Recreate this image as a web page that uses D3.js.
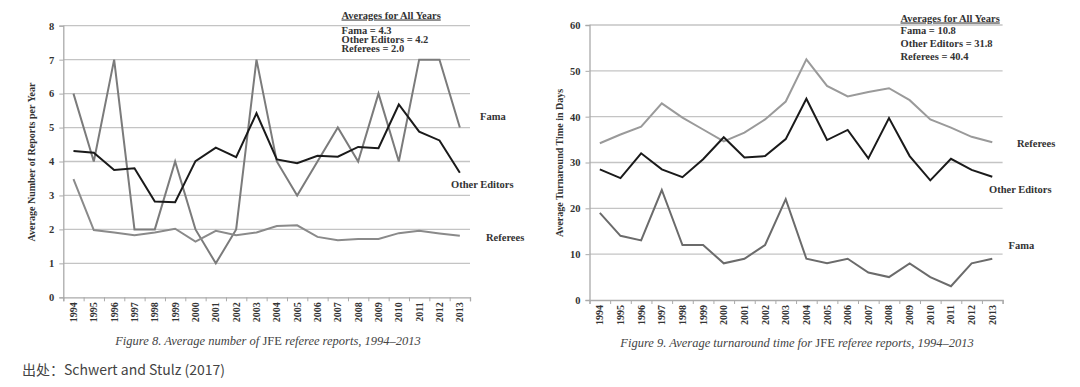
<!DOCTYPE html>
<html><head><meta charset="utf-8">
<script src="https://cdn.jsdelivr.net/npm/d3@7"></script>
<style>
body{margin:0;background:#fff;}
svg{display:block;}
.ax text{font-family:"Liberation Serif",serif;font-weight:bold;fill:#333;}
</style></head>
<body>
<svg id="c" width="1080" height="387"></svg>
<script>
const years = ["1994","1995","1996","1997","1998","1999","2000","2001","2002","2003","2004","2005","2006","2007","2008","2009","2010","2011","2012","2013"];

// Figure 8: average number of reports per year
const reportsFama = [6,4,7,2,2,4,2,1,2,7,4,3,4,5,4,6,4,7,7,5];
const reportsOther = [4.31,4.26,3.75,3.80,2.82,2.80,4.01,4.41,4.13,5.42,4.06,3.95,4.17,4.14,4.43,4.39,5.68,4.88,4.62,3.67];
const reportsReferees = [3.48,1.98,1.91,1.83,1.91,2.02,1.64,1.96,1.83,1.91,2.10,2.12,1.78,1.68,1.72,1.72,1.89,1.96,1.88,1.81];
const reportsTicks = [0,1,2,3,4,5,6,7,8];
const reportsAverages = ["Fama = 4.3","Other Editors = 4.2","Referees = 2.0"];

// Figure 9: average turnaround time in days
const daysFama = [19,14,13,24,12,12,8,9,12,22,9,8,9,6,5,8,5,3,8,9];
const daysOther = [28.5,26.6,32.0,28.5,26.8,30.7,35.5,31.1,31.4,35.1,43.9,34.9,37.1,30.9,39.7,31.4,26.1,30.8,28.4,26.9];
const daysReferees = [34.2,36.1,37.8,42.9,39.8,37.2,34.6,36.5,39.4,43.3,52.5,46.7,44.4,45.4,46.2,43.6,39.4,37.6,35.6,34.4];
const daysTicks = [0,10,20,30,40,50,60];
const daysAverages = ["Fama = 10.8","Other Editors = 31.8","Referees = 40.4"];

const svg = d3.select("#c");
const serif = '"Liberation Serif", "Times New Roman", serif';

function chart(cfg){
  const g = svg.append("g");
  const x = d3.scaleBand().domain(years).range([cfg.x0, cfg.x1]).padding(0);
  const y = d3.scaleLinear().domain([0, cfg.ymax]).range([cfg.y0, cfg.y1]);

  // gridlines
  g.append("g").selectAll("line").data(cfg.ticks.slice(1)).join("line")
    .attr("x1", cfg.x0).attr("x2", cfg.x1)
    .attr("y1", d=>y(d)).attr("y2", d=>y(d))
    .attr("stroke", "#c4c4c4").attr("stroke-width", 1.3);

  // y axis
  const ya = g.append("g").attr("class","ax").attr("transform",`translate(${cfg.x0},0)`)
    .call(d3.axisLeft(y).tickValues(cfg.ticks).tickSize(4).tickPadding(5));
  ya.select(".domain").attr("stroke","#aaa").attr("stroke-width",1.3);
  ya.selectAll(".tick line").attr("stroke","#aaa");
  ya.selectAll("text").attr("font-size", 10.5);

  // x axis: ticks at band boundaries
  const xb = d3.scaleLinear().domain([0, years.length]).range([cfg.x0, cfg.x1]);
  const xa = g.append("g").attr("class","ax").attr("transform",`translate(0,${cfg.y0})`)
    .call(d3.axisBottom(xb).tickValues(d3.range(0, years.length+1)).tickSize(4).tickFormat(""));
  xa.select(".domain").attr("stroke","#aaa").attr("stroke-width",1.3);
  xa.selectAll(".tick line").attr("stroke","#aaa");

  const xl = g.append("g").attr("class","ax").attr("transform",`translate(0,${cfg.y0})`)
    .call(d3.axisBottom(x).tickSize(0).tickPadding(0));
  xl.select(".domain").remove();
  xl.selectAll("text")
    .attr("font-size", 10)
    .attr("text-anchor","end")
    .attr("transform","rotate(-90)")
    .attr("x", -5).attr("y", 0).attr("dy","0.35em");

  // y title
  g.append("text").attr("transform",`translate(${cfg.titleX},${cfg.titleY}) rotate(-90)`)
    .attr("text-anchor","middle").attr("font-family",serif).attr("font-weight","bold")
    .attr("font-size",10).attr("fill","#333").text(cfg.ytitle);

  // lines
  const line = d3.line().x((d,i)=>x(years[i]) + x.bandwidth()/2).y(d=>y(d));
  cfg.series.forEach(s=>{
    g.append("path").datum(s.values).attr("d", line)
      .attr("fill","none").attr("stroke", s.color).attr("stroke-width", 2)
      .attr("stroke-linejoin","miter");
    g.append("text").attr("x", s.lx).attr("y", s.ly)
      .attr("font-family",serif).attr("font-weight","bold").attr("font-size",10.5)
      .attr("fill","#333").text(s.name);
  });

  // averages box
  const a = g.append("g");
  a.append("rect").attr("x", cfg.ax-2).attr("y", cfg.ay-11).attr("width", cfg.aw).attr("height", 13).attr("fill","#fff");
  a.append("text").attr("x", cfg.ax).attr("y", cfg.ay)
    .attr("font-family",serif).attr("font-weight","bold").attr("font-size",10.5)
    .attr("fill","#333").attr("text-decoration","underline").text("Averages for All Years");
  cfg.averages.forEach((t,i)=>{
    a.append("text").attr("x", cfg.ax).attr("y", cfg.ay2 + i*cfg.aStep)
      .attr("font-family",serif).attr("font-weight","bold").attr("font-size",10.5)
      .attr("fill","#333").text(t);
  });

  // caption
  const cap = g.append("text").attr("x", cfg.capX).attr("y", cfg.capY)
    .attr("text-anchor","middle").attr("font-family",serif).attr("font-size",12.5)
    .attr("font-style","italic").attr("fill","#444");
  cap.append("tspan").text(cfg.cap[0]);
  cap.append("tspan").attr("font-style","normal").text("JFE");
  cap.append("tspan").text(cfg.cap[1]);
}

chart({
  x0:63.3, x1:470, y0:297.3, y1:25.7, ymax:8, ticks:reportsTicks,
  ytitle:"Average Number of Reports per Year", titleX:35, titleY:162,
  series:[
    {name:"Fama", values:reportsFama, color:"#7b7b7b", lx:480, ly:120},
    {name:"Referees", values:reportsReferees, color:"#8a8a8a", lx:486, ly:241},
    {name:"Other Editors", values:reportsOther, color:"#1a1a1a", lx:451, ly:188}
  ],
  ax:341.5, ay:18.5, aw:110, ay2:34, aStep:9, averages:reportsAverages,
  capX:268, capY:345, cap:["Figure 8. Average number of "," referee reports, 1994–2013"]
});

chart({
  x0:589.5, x1:1002.6, y0:300, y1:25, ymax:60, ticks:daysTicks,
  ytitle:"Average Turnaround Time in Days", titleX:563, titleY:163,
  series:[
    {name:"Referees", values:daysReferees, color:"#9a9a9a", lx:1017, ly:147},
    {name:"Fama", values:daysFama, color:"#6b6b6b", lx:1008.5, ly:249},
    {name:"Other Editors", values:daysOther, color:"#1a1a1a", lx:989, ly:193}
  ],
  ax:900.5, ay:21.5, aw:105, ay2:34, aStep:13, averages:daysAverages,
  capX:797, capY:347, cap:["Figure 9. Average turnaround time for "," referee reports, 1994–2013"]
});

svg.append("text").attr("x", 22).attr("y", 375)
  .attr("font-family",'"Noto Sans CJK SC", "Noto Sans", sans-serif').attr("font-size",14)
  .attr("fill","#444").text("出处：Schwert and Stulz (2017)");
</script>
</body></html>
